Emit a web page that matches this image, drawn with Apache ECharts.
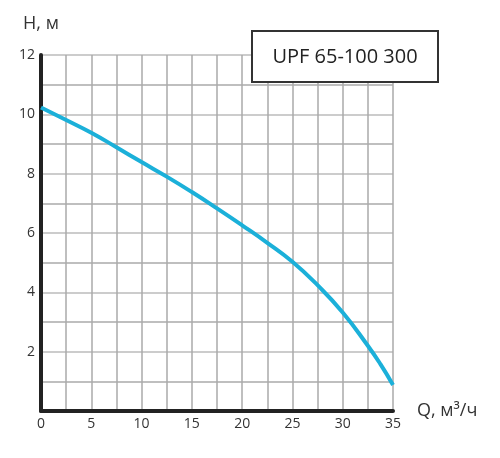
<!DOCTYPE html>
<html>
<head>
<meta charset="utf-8">
<script src="https://cdn.jsdelivr.net/npm/echarts@6/dist/echarts.min.js"></script>
<style>
  html, body { margin: 0; padding: 0; background: #fff; }
  #chart { width: 500px; height: 458px; }
</style>
</head>
<body>
<div id="chart"></div>
<script>
// расход Q, м3/ч
const flow = [0, 2.5, 5, 7.5, 10, 12.5, 15, 17.5, 20, 22.5, 25, 27.5, 30, 32.5, 33.75, 35];
// напор H, м
const head = [10.23, 9.81, 9.38, 8.89, 8.39, 7.9, 7.38, 6.83, 6.26, 5.67, 5.03, 4.24, 3.32, 2.2, 1.58, 0.88];

const xTickLabels = [0, 5, 10, 15, 20, 25, 30, 35];
const yTickLabels = [2, 4, 6, 8, 10, 12];
const modelName = 'UPF 65-100 300';

const chart = echarts.init(document.getElementById('chart'), null, { renderer: 'canvas' });
const font = '"Open Sans", "Noto Sans", sans-serif';

const option = {
    animation: false,
    grid: {
        left: 41,
        right: 107,
        top: 55,
        bottom: 47
    },
    xAxis: {
        type: 'value',
        min: 0,
        max: 35,
        interval: 2.5,
        name: 'Q, м³/ч',
        nameLocation: 'end',
        nameGap: 24,
        nameTextStyle: { color: '#333', fontSize: 18, fontFamily: font },
        axisLine: { show: true, onZero: false, lineStyle: { color: '#222', width: 4 } },
        axisTick: { show: false },
        splitLine: { show: true, lineStyle: { color: '#aaa', width: 1.5 } },
        axisLabel: {
            color: '#333',
            fontSize: 14,
            fontFamily: font,
            margin: 6,
            formatter: v => xTickLabels.includes(v) ? String(v) : ''
        }
    },
    yAxis: {
        type: 'value',
        min: 0,
        max: 12,
        interval: 1,
        name: 'H, м',
        nameLocation: 'end',
        nameGap: 22,
        nameTextStyle: { color: '#333', fontSize: 18, fontFamily: font, align: 'center' },
        axisLine: { show: true, lineStyle: { color: '#222', width: 4 } },
        axisTick: { show: false },
        splitLine: { show: true, lineStyle: { color: ['#bbb', '#aaa'], width: 1.5 } },
        axisLabel: {
            color: '#333',
            fontSize: 14,
            fontFamily: font,
            margin: 6,
            formatter: v => yTickLabels.includes(v) ? String(v) : ''
        }
    },
    graphic: [
        {
            type: 'group',
            left: 251,
            top: 30,
            z: 100,
            children: [
                {
                    type: 'rect',
                    z: 100,
                    shape: { x: 0, y: 0, width: 186, height: 51 },
                    style: { fill: '#fff', stroke: '#333', lineWidth: 2 }
                },
                {
                    type: 'text',
                    z: 101,
                    x: 93,
                    y: 26,
                    style: {
                        text: modelName,
                        fill: '#222',
                        font: '20px ' + font,
                        textAlign: 'center',
                        textVerticalAlign: 'middle'
                    }
                }
            ]
        }
    ],
    series: [
        {
            type: 'line',
            data: flow.map((q, i) => [q, head[i]]),
            smooth: 0.5,
            symbol: 'none',
            lineStyle: { color: '#1bb0d9', width: 4 }
        }
    ]
};

chart.setOption(option, true);
</script>
</body>
</html>
